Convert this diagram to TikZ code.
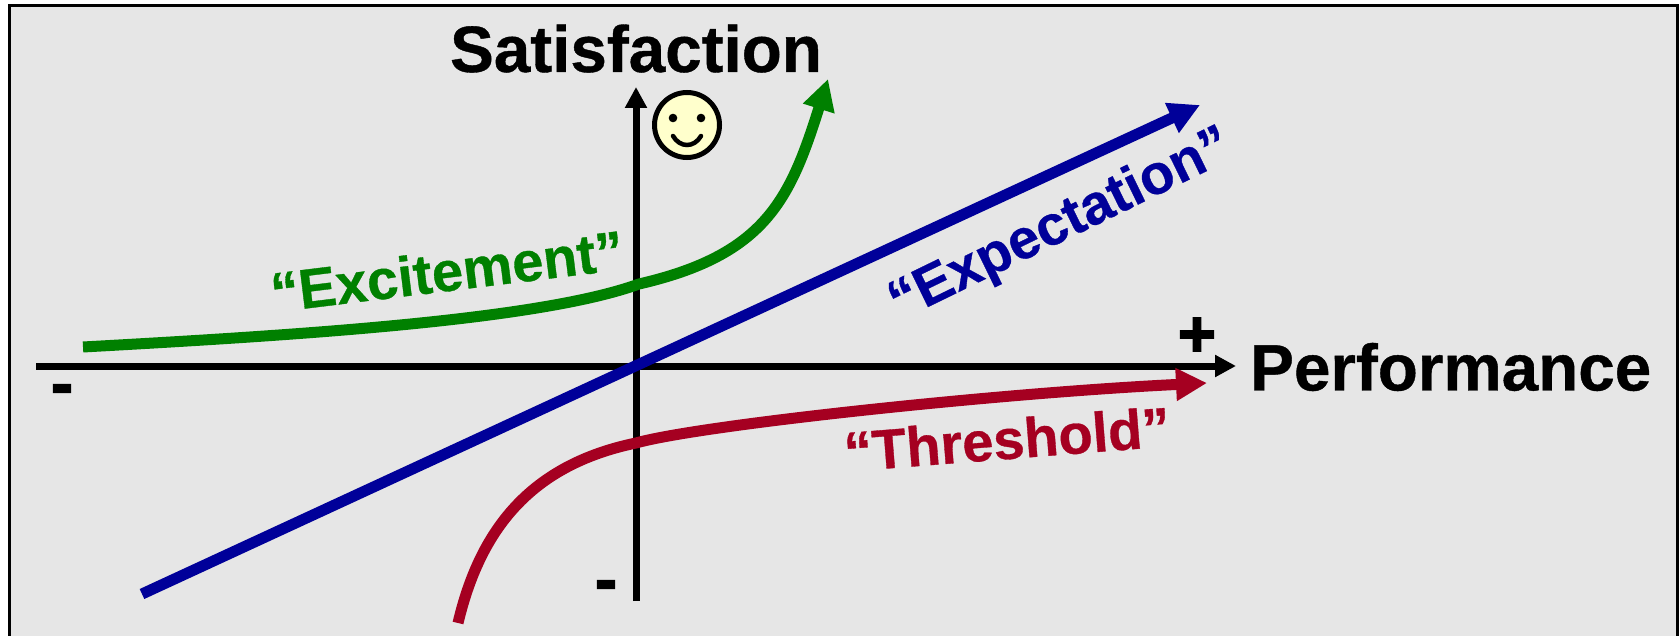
\documentclass[tikz,border=0pt]{standalone}
\usepackage{fontspec}
\setmainfont{Liberation Sans}
\newfontfamily\labelfont[FakeBold=0.6]{Liberation Sans Bold}
\newfontfamily\signfont[FakeBold=2.5]{Liberation Sans Bold}
\usetikzlibrary{positioning, arrows.meta}
\definecolor{panelgray}{HTML}{E6E6E6}
\definecolor{excitegreen}{HTML}{008000}
\definecolor{expectblue}{HTML}{000099}
\definecolor{threshred}{HTML}{A50021}
\definecolor{smileyellow}{HTML}{FFFFCC}

\begin{document}
\begin{tikzpicture}[
    x=1pt, y=-1pt,
    axis/.style={line width=7pt, -{Triangle[length=21pt, width=21pt]}},
    curve/.style={line width=11pt, -{Triangle[length=31pt, width=31pt]}},
    title/.style={font=\fontsize{65.6}{70}\labelfont\selectfont, inner sep=0pt},
    sign/.style={font=\fontsize{65}{70}\signfont\selectfont, inner sep=0pt},
    kind/.style={font=\fontsize{56}{60}\labelfont\selectfont, inner sep=0pt},
]
\useasboundingbox (0,0) rectangle (1680,636);

% Panel
\draw[line width=3pt, fill=panelgray] (9,6) rectangle (1677,660);

% End points
\coordinate (xstart) at (36,366);
\coordinate (xend) at (1236,366);
\coordinate (ystart) at (636,601);
\coordinate (yend) at (636,87);
\coordinate (greenstart) at (83,347);
\coordinate (greenmid) at (639,284);
\coordinate (greenend) at (828,79);
\coordinate (bluestart) at (142,594);
\coordinate (blueend) at (1200,105);
\coordinate (redstart) at (458,623);
\coordinate (redmid) at (636,443);
\coordinate (redend) at (1207,383);

% Axes
\draw[axis] (xstart) -- (xend);
\draw[axis] (ystart) -- (yend);

% Curves
\draw[curve, excitegreen] (greenstart) .. controls (300,335) and (540,320) .. (greenmid)
    .. controls (765,255) and (790,200) .. (greenend);
\draw[curve, expectblue] (bluestart) -- (blueend);
\draw[curve, threshred] (redstart) .. controls (480,530) and (530,465) .. (redmid)
    .. controls (700,425) and (1000,393) .. (redend);

% Axis labels
\node[title, right=14pt of xend, yshift=-1pt] (perf) {Performance};
\node[title, anchor=base] (sat) at (636,72) {Satisfaction};

% Signs
\node[sign] (plus) at (1197,337) {+};
\node[sign] (minusx) at (62,395) {-};
\node[sign] (minusy) at (606,591) {-};

% Curve labels
\node[kind, excitegreen, rotate=7] (excite) at (447,271) {“Excitement”};
\node[kind, expectblue, rotate=26] (expect) at (1061,226) {“Expectation”};
\node[kind, threshred, rotate=4.5] (thresh) at (1007,439) {“Threshold”};

% Smiley
\node[circle, draw, line width=5pt, fill=smileyellow, minimum size=65pt, inner sep=0pt] (smiley) at (687,125) {};
\fill (673,118) circle (4.3pt);
\fill (701,118) circle (4.3pt);
\draw[line width=4.5pt, line cap=round] (673,136) .. controls (680,148) and (694,148) .. (701,136);

\end{tikzpicture}
\end{document}
